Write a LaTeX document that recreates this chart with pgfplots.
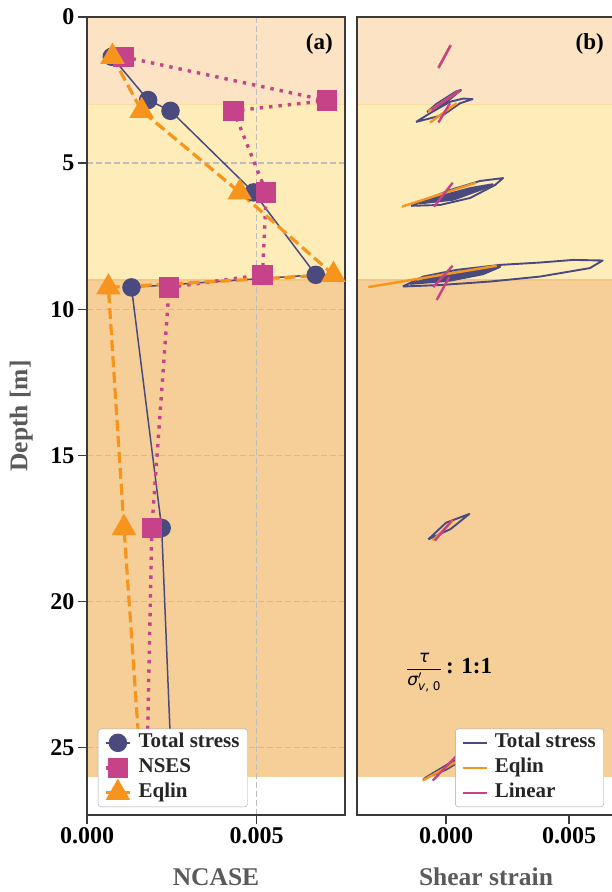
\documentclass[border=0pt]{standalone}
\usepackage{fontspec}
\setmainfont{Liberation Serif}
\newfontfamily\dejavu{DejaVu Sans}
\usepackage{pgfplots}
\pgfplotsset{compat=1.18}
\usetikzlibrary{plotmarks}

\definecolor{cTotal}{HTML}{4B4A7E}
\definecolor{cNSES}{HTML}{C6438A}
\definecolor{cEqlin}{HTML}{F7941D}
\definecolor{layA}{HTML}{FBE3C4}
\definecolor{layB}{HTML}{FEEDB9}
\definecolor{layC}{HTML}{F6CF98}
\definecolor{edgeB}{HTML}{FCDDA0}
\definecolor{edgeC}{HTML}{F4C683}
\definecolor{spine}{HTML}{3A3A3A}
\definecolor{labgray}{HTML}{5A5A5A}
\definecolor{gridgray}{HTML}{BDBDBD}

\pgfplotsset{
  panel/.style={
    set layers,
    scale only axis, width=258pt, height=798pt,
    y dir=reverse, ymin=0, ymax=27.3,
    axis line style={spine, line width=1.4pt},
    every tick/.style={spine, line width=1.4pt},
    major tick length=9pt, tick align=outside,
    xtick pos=bottom, ytick pos=left,
    scaled x ticks=false,
    xtick={0,0.005}, xticklabels={0.000,0.005},
    ticklabel style={font=\fontsize{24}{24}\selectfont\bfseries, text=black},
    xlabel style={font=\fontsize{25.5}{25.5}\selectfont\bfseries, text=labgray,
      at={(axis description cs:0.5,-0.0775)}, anchor=center},
    legend cell align=left,
    legend style={draw=gray!70, rounded corners=3pt, fill=white,
      font=\fontsize{21}{24}\selectfont\bfseries, text=black!85,
      inner xsep=6pt, inner ysep=3pt, row sep=3pt,
      nodes={inner sep=2pt, text height=14pt, text depth=4pt},
      /tikz/every odd column/.append style={column sep=5pt}},
    legend image code/.code={%
      \draw[mark repeat=2,mark phase=2,#1] plot coordinates {(0pt,0pt) (12pt,0pt) (24pt,0pt)};},
  },
  band/.style={draw=none, fill=#1, on layer=axis background, forget plot},
  bandedge/.style={#1, line width=1.2pt, on layer=axis background, forget plot},
  loop/.style={line width=1.9pt, line join=round},
}

\begin{document}
\begin{tikzpicture}

% ---------------- (a) NCASE profile ----------------
\begin{axis}[panel, at={(216pt,-416pt)}, anchor=center,
  xmin=0, xmax=0.0076,
  ytick={0,5,10,15,20,25}, yticklabels={0,5,10,15,20,25},
  grid=major, grid style={gridgray, line width=1.4pt, dash pattern=on 6pt off 3pt},
  xlabel={NCASE}, ylabel={Depth [m]},
  ylabel style={font=\fontsize{25.5}{25.5}\selectfont\bfseries, text=labgray,
    at={(axis description cs:-0.255,0.5)}, anchor=center},
  legend style={at={(0.0426,0.010)}, anchor=south west},
]
% soil layers
\addplot[band=layA] coordinates {(0,0) (0.0076,0) (0.0076,3) (0,3)};
\addplot[band=layB] coordinates {(0,3) (0.0076,3) (0.0076,9) (0,9)};
\addplot[band=layC] coordinates {(0,9) (0.0076,9) (0.0076,26) (0,26)};
\addplot[bandedge=edgeB] coordinates {(0,3) (0.0076,3)};
\addplot[bandedge=edgeC] coordinates {(0,9) (0.0076,9)};

\addplot[cTotal, line width=1.5pt, mark=*, mark size=8.5pt,
  mark options={solid, fill=cTotal, draw=cTotal}] coordinates {
  (0.00073,1.36) (0.00180,2.84) (0.00246,3.21) (0.00491,6.00)
  (0.00674,8.82) (0.00131,9.25) (0.00220,17.48) (0.00250,26.00)};
\addlegendentry{Total stress}

\addplot[cNSES, line width=3.4pt, dash pattern=on 3.4pt off 6pt, mark=square*, mark size=8.5pt,
  mark options={solid, fill=cNSES, draw=cNSES}] coordinates {
  (0.00107,1.36) (0.00707,2.86) (0.00432,3.21) (0.00528,6.00)
  (0.00517,8.82) (0.00242,9.25) (0.00191,17.48) (0.00176,26.00)};
\addlegendentry{NSES}

\addplot[cEqlin, line width=3.2pt, dash pattern=on 11pt off 5pt, mark=triangle*, mark size=11pt,
  mark options={solid, fill=cEqlin, draw=cEqlin}] coordinates {
  (0.00075,1.36) (0.00161,3.21) (0.00450,6.00)
  (0.00726,8.82) (0.00063,9.25) (0.00109,17.48) (0.00160,26.00)};
\addlegendentry{Eqlin}

\node[anchor=north east, inner sep=0pt, font=\fontsize{23}{23}\selectfont\bfseries]
  at (axis description cs:0.953,0.979) {(a)};
\end{axis}

% ---------------- (b) stress-strain loops ----------------
\begin{axis}[panel, at={(486pt,-416pt)}, anchor=center,
  xmin=-0.00362, xmax=0.00687,
  ytick=\empty,
  xlabel={Shear strain},
  legend style={at={(0.957,0.010)}, anchor=south east},
]
\addplot[band=layA] coordinates {(-0.00362,0) (0.00687,0) (0.00687,3) (-0.00362,3)};
\addplot[band=layB] coordinates {(-0.00362,3) (0.00687,3) (0.00687,9) (-0.00362,9)};
\addplot[band=layC] coordinates {(-0.00362,9) (0.00687,9) (0.00687,26) (-0.00362,26)};
\addplot[bandedge=edgeB] coordinates {(-0.00362,3) (0.00687,3)};
\addplot[bandedge=edgeC] coordinates {(-0.00362,9) (0.00687,9)};

% total stress hysteresis loops
\addplot[cTotal, loop] coordinates {(-0.00031,1.75) (0.00019,0.96)};
\addlegendentry{Total stress}
\addplot[cTotal, loop, forget plot] coordinates {
  (-0.00122,3.59) (-0.00011,3.35) (0.00057,2.95) (0.00108,2.81) (0.00070,2.79)
  (0.00016,2.90) (-0.00065,3.29) (-0.00122,3.59)};
\addplot[cTotal, loop, forget plot] coordinates {
  (-0.00077,3.25) (0.00000,2.92) (0.00061,2.50) (0.00040,2.55) (-0.00040,2.98) (-0.00077,3.25)};
\addplot[cTotal, loop, forget plot] coordinates {
  (-0.00142,6.46) (-0.00024,6.43) (0.00098,6.19) (0.00199,5.75) (0.00232,5.51)
  (0.00138,5.61) (0.00016,5.92) (-0.00085,6.26) (-0.00142,6.46)};
\addplot[cTotal, loop, fill=cTotal, forget plot] coordinates {
  (-0.00110,6.38) (0.00030,6.25) (0.00160,5.85) (0.00190,5.72) (0.00100,5.85)
  (-0.00020,6.12) (-0.00110,6.38)};
\addplot[cTotal, loop, forget plot] coordinates {
  (-0.00176,9.22) (-0.00024,9.17) (0.00179,9.05) (0.00382,8.88) (0.00585,8.59)
  (0.00637,8.33) (0.00517,8.31) (0.00382,8.40) (0.00220,8.48) (0.00043,8.65)
  (-0.00093,8.88) (-0.00176,9.22)};
\addplot[cTotal, loop, fill=cTotal, forget plot] coordinates {
  (-0.00146,9.13) (0.00016,9.02) (0.00150,8.80) (0.00220,8.55) (0.00120,8.60)
  (-0.00030,8.85) (-0.00146,9.13)};
\addplot[cTotal, loop, forget plot] coordinates {
  (-0.00072,17.87) (0.00018,17.52) (0.00095,17.00) (0.00000,17.30) (-0.00072,17.87)};
\addplot[cTotal, loop, forget plot] coordinates {
  (-0.00092,26.07) (0.00000,25.75) (0.00080,25.35) (0.00030,25.45) (-0.00040,25.80) (-0.00092,26.07)};

% equivalent-linear response
\addplot[cEqlin, loop, line width=2.4pt] coordinates {(-0.00031,1.75) (0.00019,0.96)};
\addlegendentry{Eqlin}
\addplot[cEqlin, loop, line width=2.4pt, forget plot] coordinates {(-0.00072,3.24) (0.00050,2.55)};
\addplot[cEqlin, loop, line width=2.4pt, forget plot] coordinates {(-0.00065,3.61) (0.00043,2.95)};
\addplot[cEqlin, loop, line width=2.4pt, forget plot] coordinates {(-0.00180,6.49) (0.00122,5.67)};
\addplot[cEqlin, loop, line width=2.4pt, forget plot] coordinates {(-0.00316,9.24) (0.00206,8.51)};
\addplot[cEqlin, loop, line width=2.4pt, forget plot] coordinates {(-0.00054,17.91) (0.00027,17.23)};
\addplot[cEqlin, loop, line width=2.4pt, forget plot] coordinates {(-0.00095,26.12) (0.00080,25.30)};

% linear response
\addplot[cNSES, loop, line width=2.4pt] coordinates {(-0.00030,1.72) (0.00018,0.98)};
\addlegendentry{Linear}
\addplot[cNSES, loop, line width=2.4pt, forget plot] coordinates {(-0.00031,3.61) (0.00016,2.95)};
\addplot[cNSES, loop, line width=2.4pt, forget plot] coordinates {(-0.00058,3.18) (0.00057,2.50)};
\addplot[cNSES, loop, line width=2.4pt, forget plot] coordinates {(-0.00049,6.49) (0.00027,5.67)};
\addplot[cNSES, loop, line width=2.4pt, forget plot] coordinates {(-0.00052,9.24) (0.00027,8.51)};
\addplot[cNSES, loop, line width=2.4pt, forget plot] coordinates {(-0.00038,9.68) (0.00013,8.90)};
\addplot[cNSES, loop, line width=2.4pt, forget plot] coordinates {(-0.00045,17.91) (0.00023,17.23)};
\addplot[cNSES, loop, line width=2.4pt, forget plot] coordinates {(-0.00054,26.12) (0.00040,25.30)};

\node[anchor=north east, inner sep=0pt, font=\fontsize{23}{23}\selectfont\bfseries]
  at (axis description cs:0.957,0.979) {(b)};
\node[anchor=west, inner sep=0pt, font=\fontsize{17}{17}\selectfont] at (axis description cs:0.19,0.179)
  {$\displaystyle\frac{\mbox{\dejavu\itshape τ}}%
          {\mbox{\dejavu\itshape σ}^{\prime}_{\mbox{\fontsize{12}{12}\selectfont\dejavu\itshape v\upshape, 0}}}$%
   \fontsize{23}{23}\selectfont\bfseries\,: 1:1};
\end{axis}

% page frame
\pgfresetboundingbox
\path[use as bounding box] (0,0) rectangle (611pt,-892pt);
\end{tikzpicture}
\end{document}
